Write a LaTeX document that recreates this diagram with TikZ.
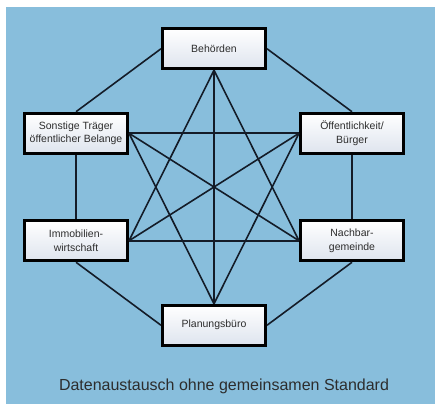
\documentclass[tikz,border=0pt]{standalone}
\usepackage{fontspec}
\setmainfont{Liberation Sans}
\definecolor{bgblue}{RGB}{136,190,220}
\definecolor{boxlow}{RGB}{222,228,238}
\definecolor{inktext}{RGB}{45,45,45}
\definecolor{linkink}{RGB}{20,28,40}
\begin{document}
\begin{tikzpicture}[x=1pt,y=-1pt,
    box/.style={draw=black, line width=3pt, top color=white, bottom color=boxlow,
                minimum width=103pt, minimum height=40pt, inner sep=1pt,
                align=center, text=inktext, font=\fontsize{10.5}{13.5}\selectfont},
    link/.style={draw=linkink, line width=1.6pt},
    caption/.style={text=inktext, font=\fontsize{16}{19}\selectfont}]
  \useasboundingbox (0,0) rectangle (435,404);
  \fill[bgblue] (6,7) rectangle (435,404);
  \matrix[column sep={138pt,between origins}, row sep={84.5pt,between origins}] at (214,187) {
    & \node[box](B) {Behörden}; & \\
    \node[box](S) {Sonstige Träger\\öffentlicher Belange}; & & \node[box](O) {Öffentlichkeit/\\Bürger}; \\[23pt]
    \node[box](I) {Immobilien-\\wirtschaft}; & & \node[box](N) {Nachbar-\\gemeinde}; \\
    & \node[box](P) {Planungsbüro}; & \\
  };
  % outer ring
  \draw[link] (B.west) -- (S.north);
  \draw[link] (B.east) -- (O.north);
  \draw[link] (S.south) -- (I.north);
  \draw[link] (O.south) -- (N.north);
  \draw[link] (I.south) -- (P.west);
  \draw[link] (N.south) -- (P.east);
  % inner star
  \draw[link] (B.south) -- (P.north);
  \draw[link] (B.south) -- (I.east);
  \draw[link] (B.south) -- (N.west);
  \draw[link] (P.north) -- (S.east);
  \draw[link] (P.north) -- (O.west);
  \draw[link] (S.east) -- (O.west);
  \draw[link] (S.east) -- (N.west);
  \draw[link] (I.east) -- (O.west);
  \draw[link] (I.east) -- (N.west);
  \node[caption] (cap) at (224,386) {Datenaustausch ohne gemeinsamen Standard};
\end{tikzpicture}
\end{document}
